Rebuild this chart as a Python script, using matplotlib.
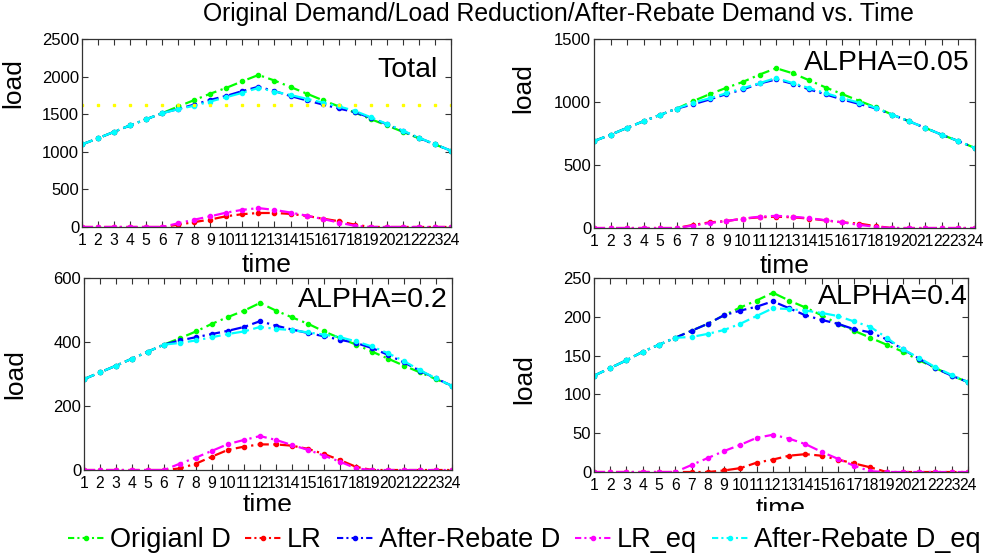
import matplotlib
matplotlib.use("Agg")
import matplotlib.pyplot as plt
from matplotlib.lines import Line2D
from matplotlib.patches import Rectangle

plt.rcParams['font.family'] = ['Liberation Sans', 'DejaVu Sans']

hours = list(range(1, 25))
tick_labels = [str(h) for h in hours]

# ---- ALPHA = 0.05 ----
orig_a05 = [690, 740, 795, 848, 898, 948, 1008, 1063, 1113, 1160, 1218, 1268,
            1228, 1172, 1115, 1062, 1010, 958, 900, 848, 795, 740, 690, 635]
lr_a05 = [0, 0, 0, 0, 0, 0, 25, 45, 55, 75, 85, 90, 85, 75, 60, 45, 35, 15, 0, 0, 0, 0, 0, 0]
ard_a05 = [690, 740, 795, 848, 898, 948, 982, 1021, 1063, 1100, 1147, 1179,
           1145, 1100, 1060, 1020, 985, 950, 900, 848, 795, 740, 690, 635]
lreq_a05 = [0, 0, 0, 0, 0, 0, 20, 40, 55, 75, 90, 97, 90, 78, 62, 45, 25, 10, 0, 0, 0, 0, 0, 0]
ardeq_a05 = [690, 740, 795, 848, 898, 948, 995, 1030, 1070, 1110, 1150, 1191,
             1150, 1110, 1070, 1030, 995, 955, 900, 848, 795, 740, 690, 635]

# ---- ALPHA = 0.2 ----
orig_a2 = [284, 305, 326, 348, 370, 392, 412, 433, 457, 478, 498, 522,
           498, 477, 457, 433, 412, 392, 370, 348, 326, 305, 284, 263]
lr_a2 = [0, 0, 0, 0, 0, 0, 5, 20, 42, 63, 73, 80, 80, 76, 66, 50, 31, 10, 0, 0, 0, 0, 0, 0]
ard_a2 = [284, 305, 326, 348, 370, 392, 405, 415, 425, 435, 447, 465,
          451, 439, 428, 418, 407, 397, 381, 360, 336, 310, 286, 263]
lreq_a2 = [0, 0, 0, 0, 0, 0, 20, 39, 60, 81, 94, 106, 94, 78, 63, 45, 26, 5, 0, 0, 0, 0, 0, 0]
ardeq_a2 = [284, 305, 326, 348, 370, 392, 397, 405, 415, 425, 433, 447,
            441, 437, 430, 423, 415, 402, 386, 365, 340, 312, 286, 263]

# ---- ALPHA = 0.4 ----
orig_a4 = [124, 134, 144, 155, 164, 173, 182, 191, 202, 212, 221, 231,
           221, 212, 202, 191, 182, 173, 164, 155, 144, 134, 124, 116]
lr_a4 = [0, 0, 0, 0, 0, 0, 0, 0, 2, 5, 12, 16, 21, 23, 21, 16, 11, 6, 0, 0, 0, 0, 0, 0]
ard_a4 = [124, 134, 144, 155, 164, 173, 182, 191, 202, 208, 213, 220,
          211, 202, 196, 191, 184, 180, 171, 158, 146, 134, 124, 116]
lreq_a4 = [0, 0, 0, 0, 0, 0, 9, 18, 27, 35, 44, 48, 43, 36, 26, 17, 8, 1, 0, 0, 0, 0, 0, 0]
ardeq_a4 = [124, 134, 144, 155, 164, 173, 174, 178, 183, 191, 201, 211,
            210, 208, 205, 201, 194, 187, 173, 158, 147, 135, 125, 116]

# ---- Total ----
orig_tot = [1098, 1179, 1265, 1351, 1432, 1513, 1602, 1687, 1772, 1850, 1937, 2021,
            1947, 1861, 1774, 1686, 1604, 1523, 1434, 1351, 1265, 1179, 1098, 1014]
lr_tot = [0, 0, 0, 0, 0, 0, 30, 65, 99, 143, 170, 186, 186, 174, 147, 111, 77, 31, 0, 0, 0, 0, 0, 0]
ard_tot = [1098, 1179, 1265, 1351, 1432, 1513, 1569, 1627, 1690, 1743, 1807, 1864,
           1807, 1741, 1684, 1629, 1576, 1527, 1452, 1366, 1277, 1184, 1100, 1014]
lreq_tot = [0, 0, 0, 0, 0, 0, 49, 97, 142, 191, 228, 251, 227, 192, 151, 107, 59, 16, 0, 0, 0, 0, 0, 0]
ardeq_tot = [1098, 1179, 1265, 1351, 1432, 1513, 1566, 1613, 1668, 1726, 1784, 1849,
             1801, 1755, 1705, 1654, 1604, 1544, 1459, 1371, 1282, 1187, 1101, 1014]
threshold_tot = [1620] * 24

series_names = ['Origianl D', 'LR', 'After-Rebate D', 'LR_eq', 'After-Rebate D_eq']
series_colors = ['#00ff00', '#ff0000', '#0000ff', '#ff00ff', '#00ffff']

panels = [
    dict(title='Total', data=[orig_tot, lr_tot, ard_tot, lreq_tot, ardeq_tot],
         ylim=(0, 2500), yticks=[0, 500, 1000, 1500, 2000, 2500],
         rect=[0.0832, 0.5903, 0.3746, 0.3394], txt=(0.965, 0.835),
         ylab_y=0.766, xlab_y=-0.14),
    dict(title='ALPHA=0.05', data=[orig_a05, lr_a05, ard_a05, lreq_a05, ardeq_a05],
         ylim=(0, 1500), yticks=[0, 500, 1000, 1500],
         rect=[0.603, 0.5884, 0.3868, 0.3412], txt=(0.987, 0.873),
         ylab_y=0.74, xlab_y=-0.135),
    dict(title='ALPHA=0.2', data=[orig_a2, lr_a2, ard_a2, lreq_a2, ardeq_a2],
         ylim=(0, 600), yticks=[0, 200, 400, 600],
         rect=[0.0853, 0.1516, 0.3736, 0.3466], txt=(0.989, 0.885),
         ylab_y=0.5, xlab_y=-0.12),
    dict(title='ALPHA=0.4', data=[orig_a4, lr_a4, ard_a4, lreq_a4, ardeq_a4],
         ylim=(0, 250), yticks=[0, 50, 100, 150, 200, 250],
         rect=[0.603, 0.148, 0.3797, 0.3502], txt=(1.0, 0.90),
         ylab_y=0.48, xlab_y=-0.13),
]

fig = plt.figure(figsize=(9.85, 5.54), dpi=100)

for i, p in enumerate(panels):
    ax = fig.add_axes(p['rect'])
    for vals, name, col in zip(p['data'], series_names, series_colors):
        ax.plot(hours, vals, color=col, linestyle='-.', dashes=(5, 2, 1, 2),
                linewidth=1.6, marker='.', markersize=6, label=name)
    if i == 0:
        ax.plot(hours, threshold_tot, color='#ffff00', linestyle='none',
                marker='s', markersize=2.0)
    ax.set_xlim(1, 24)
    ax.set_ylim(*p['ylim'])
    ax.set_xticks(hours)
    ax.set_xticklabels(tick_labels)
    ax.set_yticks(p['yticks'])
    ax.tick_params(direction='in', top=True, right=True, length=4, width=0.8,
                   colors='#333333', labelcolor='black')
    ax.tick_params(axis='x', pad=4, labelsize=11.3)
    ax.tick_params(axis='y', pad=2, labelsize=12)
    for s in ax.spines.values():
        s.set_color('#333333')
        s.set_linewidth(0.9)
    ax.set_ylabel('load', fontsize=19)
    ax.set_xlabel('time', fontsize=19)
    ax.yaxis.set_label_coords(-0.155, p['ylab_y'])
    ax.xaxis.set_label_coords(0.5, p['xlab_y'])
    ax.text(p['txt'][0], p['txt'][1], p['title'], transform=ax.transAxes,
            ha='right', va='center', fontsize=20.5)

fig.suptitle('Original Demand/Load Reduction/After-Rebate Demand vs. Time',
             x=0.567, y=0.996, va='top', fontsize=17.8)

# white band of the legend box that hides the lower part of the bottom labels
fig.patches.append(Rectangle((0.06, 0.0), 0.935, 0.077, transform=fig.transFigure,
                             facecolor='white', edgecolor='none', zorder=5))

handles = [Line2D([0], [0], color=c, linestyle='-.', dashes=(3, 1.5, 1, 1.5),
                  linewidth=1.5, marker='.', markersize=6) for c in series_colors]
leg = fig.legend(handles, series_names, loc='center',
                 bbox_to_anchor=(0.532, 0.025), ncol=5, fontsize=19.5,
                 frameon=False, handlelength=1.35,
                 handletextpad=0.2, columnspacing=0.55, borderpad=0.1)
leg.set_zorder(10)

fig.savefig('out.png', dpi=100)
